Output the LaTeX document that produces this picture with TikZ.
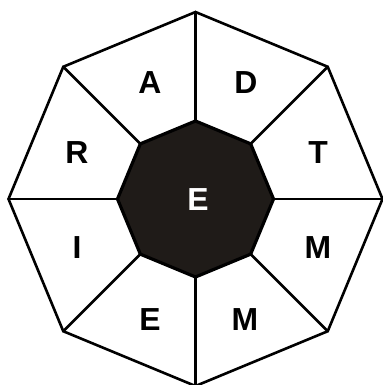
\documentclass[tikz,border=0pt]{standalone}
\usepackage{fontspec}
\setmainfont{Liberation Sans}
\definecolor{core}{RGB}{31,27,24}
\begin{document}
\begin{tikzpicture}[x=1bp,y=-1bp,
  edge/.style={line width=2.6bp,line join=miter},
  letter/.style={font=\fontsize{32}{32}\selectfont\bfseries,text=black,inner sep=0pt,anchor=center}]
\useasboundingbox (0,0) rectangle (383,385);
\begin{scope}[shift={(195.5,199)}]
\foreach \i in {0,...,7}{
  \coordinate (o\i) at ({\i*45}:187bp);
  \coordinate (n\i) at ({\i*45}:78bp);
}
\foreach \i in {0,...,7}{
  \draw[edge,line cap=round] (n\i) -- (o\i);
}
\draw[edge] (o0) -- (o1) -- (o2) -- (o3) -- (o4) -- (o5) -- (o6) -- (o7) -- cycle;
\draw[edge,line width=3.2bp,fill=core] (n0) -- (n1) -- (n2) -- (n3) -- (n4) -- (n5) -- (n6) -- (n7) -- cycle;
\end{scope}
\node[letter] (lA) at (150,83) {A};
\node[letter] (lD) at (246,83) {D};
\node[letter] (lT) at (318,153) {T};
\node[letter] (lM1) at (318,248) {M};
\node[letter] (lM2) at (245,320) {M};
\node[letter] (lE) at (150,320) {E};
\node[letter] (lI) at (77,248) {I};
\node[letter] (lR) at (77,153) {R};
\node[letter,text=white] (lC) at (198,200) {E};
\end{tikzpicture}
\end{document}
